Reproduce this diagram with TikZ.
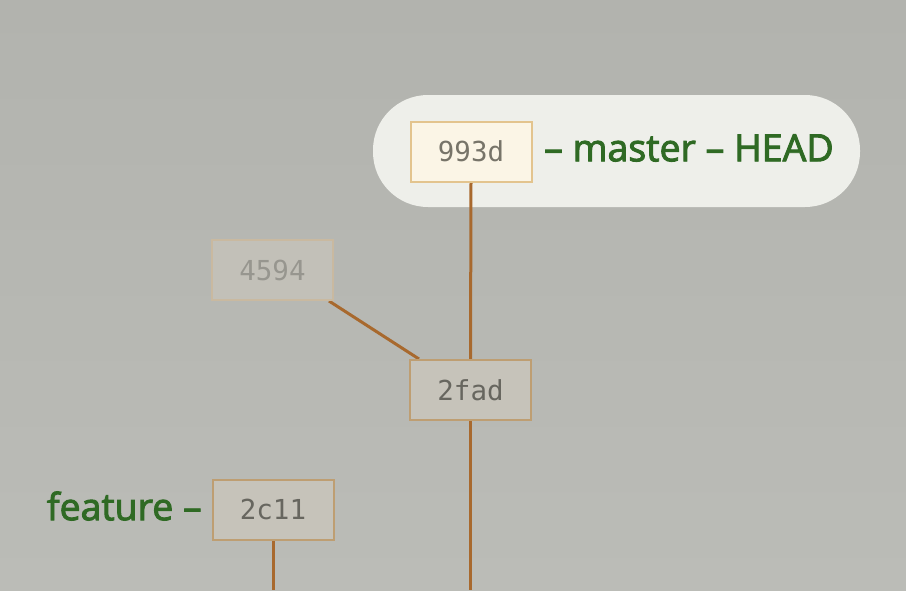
\documentclass[tikz,border=0pt]{standalone}
\usepackage{fontspec}
\setmainfont{Open Sans}
\newfontfamily\labfont{Open Sans}[RawFeature={embolden=2.5}]
\newfontfamily\commitfont{DejaVu Sans Mono}
\usetikzlibrary{backgrounds}
\definecolor{bgtop}{HTML}{B2B3AE}
\definecolor{bgbot}{HTML}{BBBCB7}
\definecolor{pillc}{HTML}{EEEFEA}
\definecolor{linkc}{HTML}{A8692E}
\definecolor{labgreen}{HTML}{2F6A24}
\definecolor{headfill}{HTML}{FBF5E6}
\definecolor{headdraw}{HTML}{E3C48E}
\definecolor{headtext}{HTML}{777469}
\definecolor{normfill}{HTML}{C6C3BA}
\definecolor{normdraw}{HTML}{BE9E72}
\definecolor{normtext}{HTML}{67665F}
\definecolor{fadefill}{HTML}{C2C0B8}
\definecolor{fadedraw}{HTML}{C9B9A0}
\definecolor{fadetext}{HTML}{97968F}
\tikzset{
  commit/.style={draw, line width=2pt, minimum width=121pt, minimum height=60pt, inner sep=0pt,
    font=\commitfont\fontsize{27.5}{32}\selectfont},
  headcommit/.style={commit, fill=headfill, draw=headdraw, text=headtext},
  normalcommit/.style={commit, fill=normfill, draw=normdraw, text=normtext},
  fadedcommit/.style={commit, fill=fadefill, draw=fadedraw, text=fadetext},
  link/.style={draw=linkc, line width=3pt},
  branchlabel/.style={text=labgreen, font=\labfont\fontsize{37.5}{42}\selectfont, inner sep=0pt},
}
\begin{document}
\begin{tikzpicture}[x=1pt, y=-1pt]
\useasboundingbox (0,0) rectangle (906,590);
% commits
\node[headcommit]   (c993d) at (471,151.5) {993d};
\node[fadedcommit]  (c4594) at (272.5,270) {4594};
\node[normalcommit] (c2fad) at (470.5,390) {2fad};
\node[normalcommit] (c2c11) at (273,509.5) {2c11};
% labels
\node[branchlabel, anchor=west] (lmaster) at (544,148) {– master – HEAD};
\node[branchlabel, anchor=east] (lfeature) at (202,506) {feature –};
% free ends
\coordinate (end2fad) at (470.5,590);
\coordinate (end2c11) at (273,590);
\begin{pgfonlayer}{background}
  \shade[top color=bgtop, bottom color=bgbot] (0,0) rectangle (906,590);
  \fill[pillc, rounded corners=55pt] (373,95) rectangle (860,207);
  \draw[link] (c993d.south) -- (c2fad.north);
  \draw[link] ([xshift=-5pt]c4594.south east) -- ([xshift=10pt]c2fad.north west);
  \draw[link] (c2fad.south) -- (end2fad);
  \draw[link] (c2c11.south) -- (end2c11);
\end{pgfonlayer}
\end{tikzpicture}
\end{document}
